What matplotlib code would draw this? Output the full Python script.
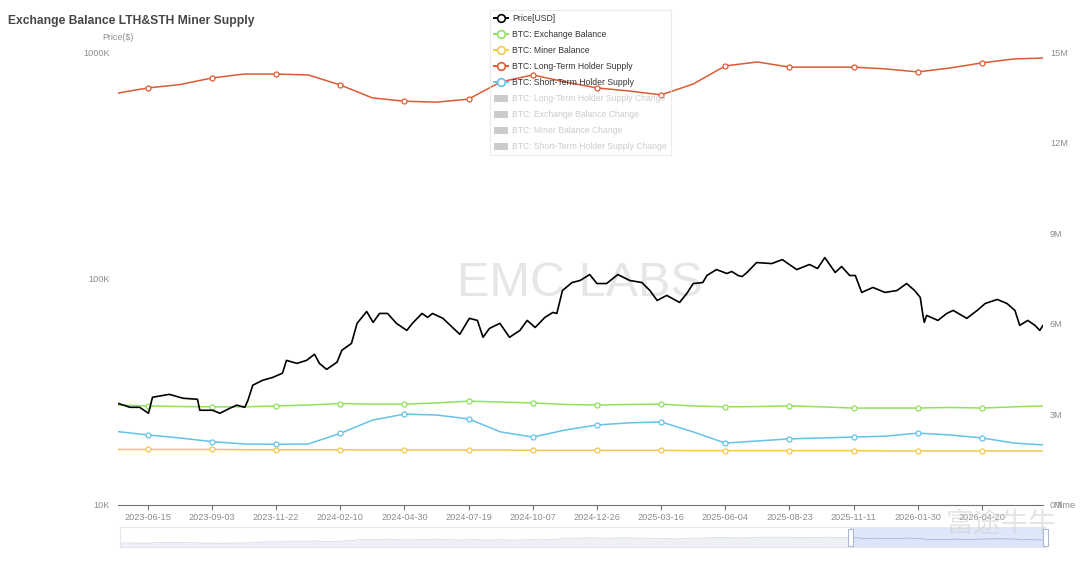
import matplotlib
matplotlib.use('Agg')
import matplotlib.pyplot as plt
import matplotlib.dates as mdates
from matplotlib.lines import Line2D
from matplotlib.patches import Patch, Rectangle
import numpy as np
import pandas as pd

plt.rcParams['font.family'] = ['Liberation Sans', 'DejaVu Sans']

# ---------------- data ----------------
price_dates = [
    '2023-05-09', '2023-05-24', '2023-06-05', '2023-06-16', '2023-06-21', '2023-07-12', '2023-07-29',
    '2023-08-16', '2023-08-19', '2023-09-04', '2023-09-13', '2023-09-25', '2023-10-04', '2023-10-14',
    '2023-10-18', '2023-10-24', '2023-11-05', '2023-11-18', '2023-11-30', '2023-12-05', '2023-12-18',
    '2023-12-30', '2024-01-09', '2024-01-15', '2024-01-24', '2024-02-06', '2024-02-12', '2024-02-24',
    '2024-03-02', '2024-03-14', '2024-03-22', '2024-03-30', '2024-04-09', '2024-04-20', '2024-05-03',
    '2024-05-10', '2024-05-22', '2024-05-29', '2024-06-04', '2024-06-17', '2024-06-29', '2024-07-08',
    '2024-07-20', '2024-07-30', '2024-08-06', '2024-08-14', '2024-08-27', '2024-09-08', '2024-09-21',
    '2024-09-30', '2024-10-10', '2024-10-22', '2024-11-01', '2024-11-06', '2024-11-13', '2024-11-25',
    '2024-12-05', '2024-12-17', '2024-12-26', '2025-01-07', '2025-01-21', '2025-02-05', '2025-02-20',
    '2025-03-02', '2025-03-11', '2025-03-23', '2025-04-08', '2025-04-17', '2025-04-25', '2025-05-07',
    '2025-05-12', '2025-05-24', '2025-06-06', '2025-06-12', '2025-06-20', '2025-06-25', '2025-07-01',
    '2025-07-13', '2025-08-01', '2025-08-14', '2025-09-01', '2025-09-17', '2025-09-27', '2025-10-06',
    '2025-10-19', '2025-10-27', '2025-11-06', '2025-11-13', '2025-11-21', '2025-12-05', '2025-12-20',
    '2026-01-04', '2026-01-16', '2026-01-26', '2026-02-02', '2026-02-05', '2026-02-07', '2026-02-10',
    '2026-02-24', '2026-03-07', '2026-03-15', '2026-04-01', '2026-04-14', '2026-04-24', '2026-05-09',
    '2026-05-21', '2026-05-31', '2026-06-06', '2026-06-16', '2026-06-25', '2026-07-01', '2026-07-05',
]
price_usd = [
    28100, 27000, 27000, 25400, 29900, 30800, 29600,
    29300, 26200, 26200, 25400, 26700, 27600, 27000,
    29000, 33800, 35500, 36600, 38200, 43500, 42200,
    43500, 46300, 42200, 39700, 42700, 48200, 51700,
    63400, 71500, 64000, 70100, 70100, 63400, 59000,
    63400, 70100, 67300, 70100, 66700, 60800, 56700,
    66700, 65300, 55000, 60200, 63400, 55000, 59000,
    65300, 60800, 67300, 70800, 70100, 88500, 96000,
    98000, 104100, 95000, 95000, 104100, 98000, 96000,
    88500, 80000, 84200, 78400, 85900, 95000, 96000,
    103100, 109500, 105200, 107400, 103100, 102000, 106300,
    117600, 116400, 121200, 109500, 115300, 110700, 123700,
    106300, 113000, 103100, 103100, 86800, 91300, 86800,
    88500, 95000, 88500, 82500, 70100, 64000, 68700,
    65300, 70100, 72300, 66700, 72300, 77600, 80800,
    77600, 72300, 62100, 65300, 62100, 59000, 62100,
]

supply_dates = [
    '2023-05-09', '2023-06-15', '2023-07-25', '2023-09-03', '2023-10-13', '2023-11-22', '2024-01-01',
    '2024-02-10', '2024-03-21', '2024-04-30', '2024-06-09', '2024-07-19', '2024-08-28', '2024-10-07',
    '2024-11-16', '2024-12-26', '2025-02-04', '2025-03-16', '2025-04-25', '2025-06-04', '2025-07-14',
    '2025-08-23', '2025-10-02', '2025-11-11', '2025-12-21', '2026-01-30', '2026-03-11', '2026-04-20',
    '2026-05-30', '2026-07-05',
]
lth_supply_m = [
    13.64, 13.81, 13.92, 14.14, 14.27, 14.27, 14.24,
    13.91, 13.48, 13.37, 13.34, 13.44, 14.01, 14.24,
    14.01, 13.81, 13.71, 13.58, 13.94, 14.54, 14.67,
    14.50, 14.50, 14.50, 14.44, 14.34, 14.47, 14.64,
    14.77, 14.80,
]
sth_supply_m = [
    2.43, 2.32, 2.22, 2.10, 2.02, 2.01, 2.02,
    2.37, 2.81, 3.01, 2.98, 2.85, 2.42, 2.25,
    2.48, 2.65, 2.72, 2.75, 2.42, 2.05, 2.12,
    2.19, 2.22, 2.25, 2.28, 2.38, 2.32, 2.22,
    2.05, 1.99,
]
exchange_balance_m = [
    3.31, 3.28, 3.26, 3.25, 3.25, 3.28, 3.31,
    3.36, 3.34, 3.34, 3.38, 3.44, 3.41, 3.38,
    3.33, 3.31, 3.33, 3.34, 3.28, 3.25, 3.26,
    3.28, 3.25, 3.21, 3.21, 3.21, 3.23, 3.21,
    3.25, 3.28,
]
miner_balance_m = [
    1.84, 1.84, 1.84, 1.84, 1.83, 1.83, 1.83,
    1.83, 1.82, 1.82, 1.82, 1.82, 1.82, 1.81,
    1.81, 1.81, 1.81, 1.81, 1.80, 1.80, 1.80,
    1.80, 1.80, 1.80, 1.79, 1.79, 1.79, 1.79,
    1.79, 1.79,
]

tick_dates = [
    '2023-06-15', '2023-09-03', '2023-11-22', '2024-02-10', '2024-04-30', '2024-07-19', '2024-10-07',
    '2024-12-26', '2025-03-16', '2025-06-04', '2025-08-23', '2025-11-11', '2026-01-30', '2026-04-20',
]
left_ticks = [1e4, 1e5, 1e6]
left_tick_labels = ['10K', '100K', '1000K']
right_ticks_m = [0, 3, 6, 9, 12, 15]
right_tick_labels = ['0M', '3M', '6M', '9M', '12M', '15M']

legend_active = ['Price[USD]', 'BTC: Exchange Balance', 'BTC: Miner Balance',
                 'BTC: Long-Term Holder Supply', 'BTC: Short-Term Holder Supply']
legend_inactive = ['BTC: Long-Term Holder Supply Change', 'BTC: Exchange Balance Change',
                   'BTC: Miner Balance Change', 'BTC: Short-Term Holder Supply Change']
zoom_start = '2025-11-04'

# colours
C_PRICE = '#000000'
C_EXCH = '#91e05e'
C_MINER = '#f2c94c'
C_LTH = '#dd5a36'
C_STH = '#64c3e6'
C_TXT = '#8c8c8c'

pdates = pd.to_datetime(price_dates)
sdates = pd.to_datetime(supply_dates)
tdates = pd.to_datetime(tick_dates)

W, H = 1080, 561
fig = plt.figure(figsize=(W / 100, H / 100), dpi=100)
ax = fig.add_axes([118 / W, (H - 505) / H, 925 / W, 453 / H])
ax2 = ax.twinx()
ax.set_zorder(2)
ax2.set_zorder(1)
ax.patch.set_visible(False)

xmin, xmax = pdates[0], pdates[-1]

# right axis series
mark_idx = [i for i, d in enumerate(sdates) if d in set(tdates)]
mk = dict(marker='o', markersize=3.6, markerfacecolor='white', markeredgewidth=0.9, markevery=mark_idx)
ax2.plot(sdates, lth_supply_m, color=C_LTH, lw=1.1, markeredgecolor=C_LTH, zorder=3, **mk)
ax2.plot(sdates, exchange_balance_m, color=C_EXCH, lw=1.1, markeredgecolor=C_EXCH, zorder=3, **mk)
ax2.plot(sdates, sth_supply_m, color=C_STH, lw=1.1, markeredgecolor=C_STH, zorder=3, **mk)
ax2.plot(sdates, miner_balance_m, color=C_MINER, lw=1.1, markeredgecolor=C_MINER, zorder=3, **mk)
ax2.set_ylim(0, 15)
ax2.set_yticks(right_ticks_m)
ax2.set_yticklabels(right_tick_labels)

# price on log left axis
ax.plot(pdates, price_usd, color=C_PRICE, lw=1.2, zorder=4)
ax.set_yscale('log')
ax.set_ylim(1e4, 1e6)
ax.set_yticks(left_ticks)
ax.set_yticklabels(left_tick_labels)
ax.yaxis.set_minor_locator(matplotlib.ticker.NullLocator())

ax.set_xlim(xmin, xmax)
ax.set_xticks(tdates)
ax.set_xticklabels([d.strftime('%Y-%m-%d') for d in tdates])

# grid on lower axes
ax2.grid(axis='x', color='#e6e9f0', lw=0.8, zorder=0)
ax2.set_axisbelow(True)

for a in (ax, ax2):
    for s in ('top', 'left', 'right'):
        a.spines[s].set_visible(False)
ax2.spines['bottom'].set_visible(False)
ax.spines['bottom'].set_color('#6e7079')
ax.spines['bottom'].set_linewidth(0.8)
ax.tick_params(axis='x', length=3.5, width=0.8, color='#6e7079', labelsize=6.6, labelcolor=C_TXT, pad=2)
ax.tick_params(axis='y', length=0, labelsize=6.6, labelcolor=C_TXT, pad=6)
ax2.tick_params(axis='y', length=0, labelsize=6.6, labelcolor=C_TXT, pad=5)
ax2.tick_params(axis='x', length=0)

# watermark
ax2.text((580 - 118) / 925, (505 - 283) / 453, 'EMC LABS', transform=ax2.transAxes,
         ha='center', va='center', fontsize=35, color='#e6e6e6', zorder=1,
         family=['Liberation Sans', 'DejaVu Sans'])

# titles / labels
fig.text(8 / W, 1 - 21 / H, 'Exchange Balance LTH&STH Miner Supply', ha='left', va='center',
         fontsize=8.7, fontweight='bold', color='#464646')
fig.text(118 / W, 1 - 38 / H, 'Price($)', ha='center', va='center', fontsize=6.4, color=C_TXT)
fig.text(1056 / W, 1 - 505 / H, 'Time', ha='left', va='center', fontsize=6.6, color=C_TXT)

# legend
handles = []
for lab, col in zip(legend_active, [C_PRICE, C_EXCH, C_MINER, C_LTH, C_STH]):
    handles.append(Line2D([], [], color=col, lw=1.4, marker='o', markersize=5.5,
                          markerfacecolor='white', markeredgecolor=col, markeredgewidth=1.2))
for lab in legend_inactive:
    handles.append(Patch(facecolor='#cccccc', edgecolor='none'))
leg = fig.legend(handles, legend_active + legend_inactive, loc='upper left',
                 bbox_to_anchor=(490 / W, 1 - 10 / H), fontsize=6.2, frameon=True,
                 fancybox=False, edgecolor='#e6e6e6', facecolor='none', framealpha=None,
                 labelspacing=0.82, handlelength=1.6, handleheight=0.9, handletextpad=0.5,
                 borderpad=0.45, borderaxespad=0)
for i, t in enumerate(leg.get_texts()):
    t.set_color('#333333' if i < 5 else '#cccccc')
leg.get_frame().set_linewidth(0.8)

# data-zoom slider
axs = fig.add_axes([120 / W, (H - 547) / H, 925 / W, 20 / H])
lp = np.log10(np.array(price_usd, dtype=float))
norm = (lp - 4.0) / 2.2
axs.fill_between(pdates, 0, norm, color='#eef0f6', lw=0)
axs.plot(pdates, norm, color='#d6dbe6', lw=0.6)
zs = pd.Timestamp(zoom_start)
axs.axvspan(zs, xmax, color='#d8e1fb', alpha=0.8, lw=0)
sel = pdates >= zs
axs.plot(pdates[sel], norm[sel], color='#a9b9e8', lw=0.6)
axs.set_xlim(xmin, xmax)
axs.set_ylim(0, 1)
axs.set_xticks([])
axs.set_yticks([])
for s in axs.spines.values():
    s.set_color('#e3e6ec')
    s.set_linewidth(0.8)
x_sel = 120 + 925 * (mdates.date2num(zs) - mdates.date2num(xmin)) / (mdates.date2num(xmax) - mdates.date2num(xmin))
for hx in (x_sel, 1045):
    fig.patches.append(Rectangle(((hx - 2.5) / W, (H - 546) / H), 5 / W, 17 / H,
                                 transform=fig.transFigure, facecolor='white',
                                 edgecolor='#acb8d1', lw=0.8, zorder=5))

# reposter watermark
fig.text(1001 / W, 1 - 524 / H, '富途牛牛', ha='center', va='center', fontsize=20,
         color='#d0d0d0', alpha=0.55, family=['Noto Sans CJK SC', 'DejaVu Sans'])

fig.savefig('out.png', dpi=100)
